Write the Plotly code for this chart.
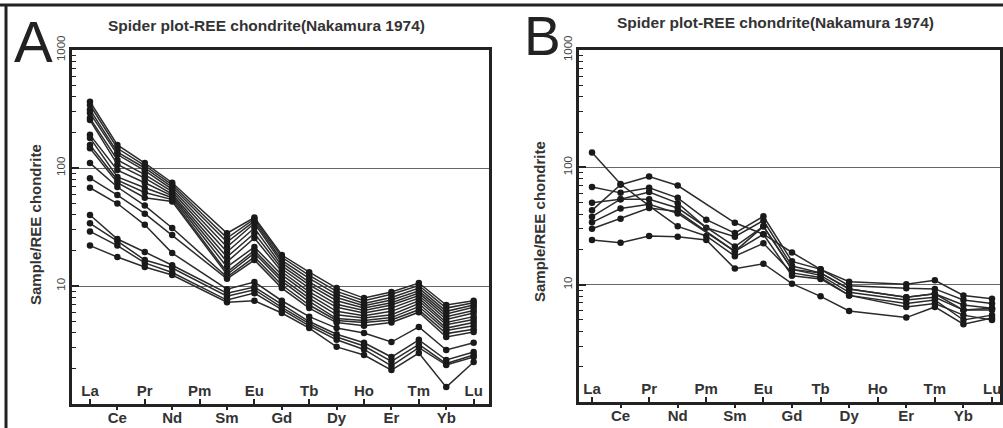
import plotly.graph_objects as go

elements = ["La", "Ce", "Pr", "Nd", "Pm", "Sm", "Eu", "Gd", "Tb", "Dy", "Ho", "Er", "Tm", "Yb", "Lu"]
top_labels = ["La", "Pr", "Pm", "Eu", "Tb", "Ho", "Tm", "Lu"]
bottom_labels = ["Ce", "Nd", "Sm", "Gd", "Dy", "Er", "Yb"]
title_text = "Spider plot-REE chondrite(Nakamura 1974)"
ytitle_text = "Sample/REE chondrite"

# Panel A samples: values for La..Lu (None = not analysed, Pm)
panel_a = [
    [365, 157, 110, 75, None, 28.0, 38.0, 18.3, 13.1, 9.6, 7.9, 8.9, 10.6, 6.9, 7.5],
    [342, 147, 105, 72, None, 25.5, 37.0, 17.5, 12.3, 9.0, 7.5, 8.5, 10.1, 6.5, 7.2],
    [312, 136, 100, 69, None, 23.6, 35.5, 16.5, 11.6, 8.5, 7.1, 8.0, 9.6, 6.1, 6.9],
    [292, 130, 95, 66, None, 21.4, 34.0, 15.7, 10.8, 8.0, 6.8, 7.6, 9.1, 5.8, 6.6],
    [265, 117, 88, 63, None, 19.4, 31.0, 14.8, 10.2, 7.5, 6.5, 7.2, 8.7, 5.5, 6.2],
    [255, 107, 82, 60, None, 17.6, 28.0, 14.0, 9.6, 7.0, 6.2, 6.9, 8.3, 5.2, 5.9],
    [191, 96, 75, 58, None, 16.0, 25.5, 13.2, 8.9, 6.6, 5.9, 6.5, 7.9, 4.9, 5.5],
    [180, 84, 68, 56, None, 14.5, 21.4, 12.4, 8.4, 6.1, 5.6, 6.1, 7.5, 4.7, 5.2],
    [157, 79, 62, 54, None, 13.1, 20.0, 11.6, 7.9, 5.7, 5.35, 5.7, 7.1, 4.4, 4.9],
    [147, 75, 56, 52, None, 12.5, 19.0, 11.0, 7.4, 5.3, 5.1, 5.4, 6.7, 4.2, 4.6],
    [110, 69, 48, 31, None, 11.9, 17.6, 10.2, 6.9, 5.1, 4.9, 5.15, 6.3, 3.95, 4.3],
    [82, 59, 41, 27, None, 11.5, 16.6, 9.6, 6.5, 4.9, 4.6, 4.9, 6.0, 3.7, 4.07],
    [68, 50, 33, 19, None, 9.4, 10.8, 7.5, 5.5, 4.4, 4.0, 3.35, 4.5, 2.87, 3.3],
    [40, 25, 19.4, 15, None, 8.7, 9.8, 7.0, 5.0, 3.9, 3.3, 2.5, 3.5, 2.36, 2.76],
    [34, 24, 16.6, 14.2, None, 8.2, 9.3, 6.6, 4.8, 3.7, 3.1, 2.3, 3.2, 2.2, 2.6],
    [29, 22, 15.7, 13, None, 7.6, 8.7, 6.3, 4.6, 3.5, 2.9, 2.1, 3.0, 2.14, 2.5],
    [22, 17.6, 14.5, 12.4, None, 7.3, 7.5, 5.9, 4.4, 3.05, 2.6, 1.94, 2.7, 1.39, 2.27],
]

# Panel B samples
panel_b = [
    [134, 72, 47, 31.4, 26, 17.5, 22.5, 12.6, 11.5, 8.1, None, 6.9, 7.4, 5.0, 5.5],
    [43, 71, 83.5, 70, None, 33.7, 26.9, 18.8, 13.5, 10.6, None, 10.1, 10.9, 8.1, 7.6],
    [68, 60.6, 67, 55, 35.8, 27.5, 38.3, 15.8, 13.5, 9.8, None, 9.3, 9.2, 7.4, 6.9],
    [50, 53.5, 61.5, 49.5, 30.5, 25.6, 35.2, 14.4, 12.6, 9.2, None, 7.8, 8.35, 6.7, 6.3],
    [38, 53.5, 53.5, 45, None, 21.1, 31.4, 13.5, 12.0, 8.6, None, 7.4, 7.8, 6.07, 6.07],
    [34, 44.5, 48.5, 40.5, None, 19.2, 26.9, 11.9, 11.2, 8.1, None, 6.46, 6.9, 5.5, 5.0],
    [30, 36.5, 45, 42, None, 19.2, 31.4, 13.5, 12.6, 9.2, None, 7.8, 8.35, 6.07, 6.3],
    [24, 22.8, 26, 25.6, 24, 13.7, 15.1, 10.2, 7.95, 5.96, None, 5.24, 6.46, 4.6, 5.2],
]

W, H = 1003, 428
x_index = list(range(len(elements)))

fig = go.Figure()

line_col = "#2b2b2b"
mark_col = "#1a1a1a"

for i, vals in enumerate(panel_a):
    xa_ref = "x3" if i == len(panel_a) - 1 else "x"
    fig.add_trace(go.Scatter(x=x_index, y=vals, mode="lines+markers", connectgaps=True,
                             line=dict(color=line_col, width=1.5),
                             marker=dict(color=mark_col, size=6.5),
                             xaxis=xa_ref, yaxis="y", showlegend=False, hoverinfo="skip"))
for i, vals in enumerate(panel_b):
    xa_ref = "x4" if i == len(panel_b) - 1 else "x2"
    fig.add_trace(go.Scatter(x=x_index, y=vals, mode="lines+markers", connectgaps=True,
                             line=dict(color=line_col, width=1.5),
                             marker=dict(color=mark_col, size=6.5),
                             xaxis=xa_ref, yaxis="y2", showlegend=False, hoverinfo="skip"))

FAM = "Liberation Sans, Arial, sans-serif"
tick_font = dict(family=FAM, size=15, color="#333", weight="bold")
ytick_font = dict(family=FAM, size=11.5, color="#444")

minor_vals = [m * 10 ** e for e in range(0, 3) for m in range(2, 10)]


def xa(domain, rng, vals, text, ticks, pos, line=True, standoff=0):
    return dict(domain=domain, range=rng, tickmode="array", tickvals=vals, ticktext=text,
                ticks=ticks, ticklen=5, tickwidth=1.5, tickcolor="#222",
                ticklabelposition=pos, ticklabelstandoff=standoff,
                tickfont=tick_font, showgrid=False, zeroline=False,
                showline=line, mirror=line, linewidth=2.5, linecolor="#222",
                fixedrange=True, automargin=False)


def ya(domain, rng):
    return dict(domain=domain, type="log", range=rng, tickmode="array",
                tickvals=[10, 100, 1000], ticktext=["10", "100", "1000"],
                ticks="inside", ticklen=7, tickwidth=1.5, tickcolor="#222", tickangle=-90,
                tickfont=ytick_font, showgrid=True, gridcolor="#666", gridwidth=1,
                zeroline=False, showline=True, mirror=True, linewidth=2.5, linecolor="#222",
                automargin=False, fixedrange=True,
                minor=dict(tickmode="array", tickvals=minor_vals, ticks="inside", ticklen=4,
                           tickwidth=1.2, tickcolor="#222", showgrid=False))


top_idx = [0, 2, 4, 6, 8, 10, 12, 14]
bot_idx = [1, 3, 5, 7, 9, 11, 13]
# panel B: the last top label (Lu) sits against the frame, drawn as an annotation below
b_top_text = top_labels[:-1] + [""]

ax_dom = [72 / W, 489 / W]
bx_dom = [579 / W, 1000 / W]
ay_dom = [(H - 404) / H, (H - 50) / H]
by_dom = [(H - 402) / H, (H - 50) / H]
a_rng = [-0.656, 14.56]
b_rng = [-0.455, 14.28]

fig.update_layout(
    template="none",
    width=W, height=H, margin=dict(l=0, r=0, t=0, b=0, autoexpand=False),
    paper_bgcolor="white", plot_bgcolor="white",
    xaxis=dict(xa(ax_dom, a_rng, top_idx, top_labels, "inside", "inside"), anchor="y"),
    xaxis3=dict(xa(ax_dom, a_rng, bot_idx, bottom_labels, "outside", "outside",
                   line=False, standoff=-5),
                overlaying="x", anchor="y", side="bottom"),
    yaxis=dict(ya(ay_dom, [0, 3]), anchor="x"),
    xaxis2=dict(xa(bx_dom, b_rng, top_idx, b_top_text, "inside", "inside"), anchor="y2"),
    xaxis4=dict(xa(bx_dom, b_rng, bot_idx, bottom_labels, "outside", "outside",
                   line=False, standoff=-5),
                overlaying="x2", anchor="y2", side="bottom"),
    yaxis2=dict(ya(by_dom, [0, 3]), anchor="x2"),
)

title_font = dict(family=FAM, size=15.5, color="#333", weight="bold")
ytitle_font = dict(family=FAM, size=15, color="#333", weight="bold")
ann = []
for cx, cy in [(266, 25), (775, 23)]:
    ann.append(dict(text=title_text, x=cx / W, y=1 - cy / H, xref="paper", yref="paper",
                    showarrow=False, font=title_font, xanchor="center", yanchor="middle"))
for cx, cy in [(35, 225), (539, 222)]:
    ann.append(dict(text=ytitle_text, x=cx / W, y=1 - cy / H, xref="paper", yref="paper",
                    showarrow=False, font=ytitle_font, textangle=-90,
                    xanchor="center", yanchor="middle"))
for letter, cx, cy, fs in [("A", 33, 41, 58), ("B", 542, 36, 55)]:
    ann.append(dict(text=letter, x=cx / W, y=1 - cy / H, xref="paper", yref="paper",
                    showarrow=False, xanchor="center", yanchor="middle",
                    font=dict(family=FAM, size=fs, color="#222")))
ann.append(dict(text=top_labels[-1], x=14, xref="x2", y=1 - 388 / H, yref="paper",
                showarrow=False, xanchor="center", yanchor="middle", font=tick_font))
fig.update_layout(annotations=ann)

shapes = [
    dict(type="line", xref="paper", yref="paper", x0=0, x1=1, y0=1 - 5 / H, y1=1 - 5 / H,
         line=dict(color="#222", width=3)),
    dict(type="line", xref="paper", yref="paper", x0=6 / W, x1=6 / W, y0=0, y1=1 - 5 / H,
         line=dict(color="#222", width=3)),
]
fig.update_layout(shapes=shapes)

fig.write_html("out.html", config={"displayModeBar": False},
               post_script="document.body.style.margin='0px';")
